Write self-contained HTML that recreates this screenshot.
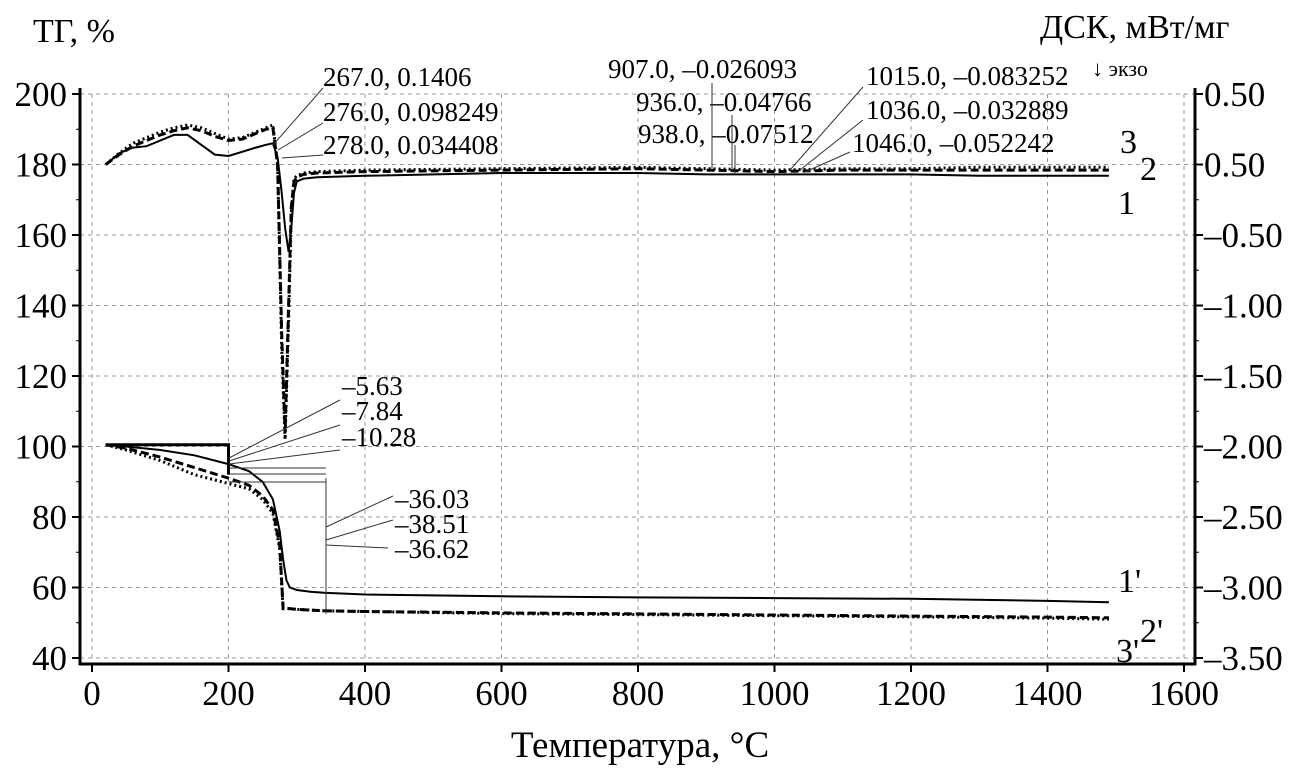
<!DOCTYPE html>
<html><head><meta charset="utf-8"><style>
html,body{margin:0;padding:0;background:#fff}
svg{display:block}
text{font-family:"Liberation Serif",serif;fill:#000}
</style></head><body>
<svg id="chart" width="1305" height="769" viewBox="0 0 1305 769" xmlns="http://www.w3.org/2000/svg">
<g id="grid"></g>
<g id="axes"></g>
<g id="series"></g>
<g id="annots"></g>
<text x="33" y="42" font-size="34">ТГ, %</text>
<text x="1040" y="38" font-size="34">ДСК, мВт/мг</text>
<text x="640" y="757" font-size="37" text-anchor="middle">Температура, °C</text>
<text x="1092" y="76" font-size="22">↓ экзо</text>
</svg>
<script>
const xTicks=[0,200,400,600,800,1000,1200,1400,1600];
const yLeftTicks=[40,60,80,100,120,140,160,180,200];
const yRightLabels=["–3.50","–3.00","–2.50","–2.00","–1.50","–1.00","–0.50","0.50","0.50"];
// DSC curves (right axis, mW/mg)
const dscT=[20,40,60,80,100,120,140,160,180,200,220,240,255,265,272,278,283,288,292,296,300,310,330,400,600,800,900,1000,1100,1200,1300,1400,1490];
const dsc1=[0,0.08,0.12,0.13,0.17,0.21,0.21,0.14,0.07,0.06,0.09,0.12,0.14,0.15,0.05,-0.2,-0.45,-0.62,-0.45,-0.2,-0.12,-0.1,-0.09,-0.08,-0.06,-0.06,-0.07,-0.07,-0.07,-0.07,-0.08,-0.08,-0.08];
const dsc2=[0,0.07,0.13,0.17,0.21,0.24,0.26,0.24,0.2,0.17,0.18,0.22,0.25,0.26,0.0,-1.2,-1.9,-1.0,-0.3,-0.12,-0.09,-0.07,-0.06,-0.05,-0.04,-0.03,-0.04,-0.05,-0.04,-0.04,-0.04,-0.04,-0.04];
const dsc3=[0,0.08,0.15,0.19,0.23,0.26,0.28,0.26,0.22,0.18,0.19,0.23,0.26,0.28,0.0,-1.3,-1.95,-1.1,-0.35,-0.1,-0.08,-0.06,-0.05,-0.04,-0.03,-0.02,-0.03,-0.04,-0.03,-0.03,-0.02,-0.02,-0.02];
// TG curves (left axis, %)
const tgT=[20,50,100,150,200,230,250,265,275,280,285,290,300,320,340,400,600,800,1000,1200,1400,1490];
const tg1=[100.5,100,99,97.5,95,93,90,85,76,68,62,60,59.3,58.8,58.5,58,57.5,57.2,57,56.8,56.2,55.8];
const tg2=[100.5,99.5,97,94,91,89,86,82,72,54,54,54,53.8,53.6,53.4,53.2,52.8,52.5,52.2,51.9,51.6,51.4];
const tg3=[100.5,99,96,92,89.5,88,85,81,71,54,54,54,53.8,53.6,53.4,53.2,52.6,52.3,52,51.7,51.3,51];
const X=t=>92+t*(1184-92)/1600;
const YL=v=>94+(200-v)*(658-94)/160;
const YR=r=>164.5-r*141;
const NS="http://www.w3.org/2000/svg";
function mk(tag,attrs,parent){const e=document.createElementNS(NS,tag);for(const k in attrs)e.setAttribute(k,attrs[k]);parent.appendChild(e);return e;}
const grid=document.getElementById('grid'),axes=document.getElementById('axes'),series=document.getElementById('series'),ann=document.getElementById('annots');
xTicks.forEach(t=>{
 const l=mk('line',{x1:X(t),x2:X(t),y1:94,y2:664,stroke:'#999','stroke-dasharray':'4 4','stroke-width':1},grid);
 
 
 const tx=mk('text',{x:X(t),y:705,'font-size':35,'text-anchor':'middle'},axes);tx.textContent=t;
 
 
 mk('line',{x1:X(t),x2:X(t),y1:664,y2:672,stroke:'#000','stroke-width':2},axes);
});
yLeftTicks.forEach((v,i)=>{
 const y=YL(v);
 const l=mk('line',{x1:80,x2:1195,y1:y,y2:y,stroke:'#999','stroke-dasharray':'4 4','stroke-width':1},grid);
 
 
 const tx=mk('text',{x:67,y:y+12,'font-size':35,'text-anchor':'end'},axes);tx.textContent=v;
 
 
 const tr=mk('text',{x:1204,y:y+12,'font-size':35},axes);tr.textContent=yRightLabels[i];
 
 
 mk('line',{x1:72,x2:80,y1:y,y2:y,stroke:'#000','stroke-width':2},axes);
 mk('line',{x1:1195,x2:1203,y1:y,y2:y,stroke:'#000','stroke-width':2},axes);
 if(i<yLeftTicks.length-1){const ym=y-35.25;mk('line',{x1:76,x2:80,y1:ym,y2:ym,stroke:'#000'},axes);mk('line',{x1:1195,x2:1199,y1:ym,y2:ym,stroke:'#000'},axes);}
});
mk('line',{x1:80,x2:80,y1:88,y2:665,stroke:'#000','stroke-width':3},axes);
mk('line',{x1:1195,x2:1195,y1:88,y2:665,stroke:'#000','stroke-width':3},axes);
mk('line',{x1:79,x2:1196,y1:664,y2:664,stroke:'#000','stroke-width':3},axes);
function path(xs,ys,yf,style,name){
 const d=xs.map((t,i)=>(i?'L':'M')+X(t).toFixed(1)+','+yf(ys[i]).toFixed(1)).join(' ');
 const p=mk('path',Object.assign({d:d,fill:'none',stroke:'#000'},style),series);
 
 
}
path(dscT,dsc1,YR,{'stroke-width':2},'dsc-curve-1');
path(dscT,dsc2,YR,{'stroke-width':3,'stroke-dasharray':'8 4'},'dsc-curve-2');
path(dscT,dsc3,YR,{'stroke-width':3,'stroke-dasharray':'2 3'},'dsc-curve-3');
path(tgT,tg1,YL,{'stroke-width':2},'tg-curve-1');
path(tgT,tg2,YL,{'stroke-width':3,'stroke-dasharray':'8 4'},'tg-curve-2');
path(tgT,tg3,YL,{'stroke-width':3,'stroke-dasharray':'2 3'},'tg-curve-3');
mk('path',{d:`M${X(20)},${YL(100.5)} L${X(200)},${YL(100.5)} L${X(200)},${YL(92)}`,stroke:'#000','stroke-width':3,fill:'none'},ann);
function label(x,y,s,fs,name){const t=mk('text',{x:x,y:y,'font-size':fs},ann);t.textContent=s;}
function ln(x1,y1,x2,y2){mk('line',{x1,y1,x2,y2,stroke:'#333','stroke-width':1},ann);}
label(323,86,'267.0, 0.1406',27,'peak-label-1');
label(323,121,'276.0, 0.098249',27,'peak-label-2');
label(323,154,'278.0, 0.034408',27,'peak-label-3');
ln(323,88,273,145);ln(323,123,278,150);ln(323,155,282,158);
label(608,78,'907.0, –0.026093',27,'peak-label-4');
label(636,111,'936.0, –0.04766',27,'peak-label-5');
label(638,143,'938.0, –0.07512',27,'peak-label-6');
label(866,85,'1015.0, –0.083252',27,'peak-label-7');
label(866,119,'1036.0, –0.032889',27,'peak-label-8');
label(852,152,'1046.0, –0.052242',27,'peak-label-9');
ln(712,83,712,168);ln(732,115,732,172);ln(735,145,735,175);
ln(863,87,790,170);ln(863,120,800,170);ln(850,152,805,172);
label(1120,153,'3',34,'series-label-3');label(1140,180,'2',34,'series-label-2');label(1118,214,'1',34,'series-label-1');
label(342,395,'–5.63',27,'loss-label-1');label(342,420,'–7.84',27,'loss-label-2');label(342,446,'–10.28',27,'loss-label-3');
ln(340,400,229,458);ln(340,425,229,461);ln(340,450,229,464);
[468,474,482].forEach(y=>ln(229,y,326,y));
mk('line',{x1:326,x2:326,y1:478,y2:592,stroke:'#333'},ann);
mk('line',{x1:326,x2:326,y1:585,y2:614,stroke:'#333'},ann);
label(395,508,'–36.03',27,'loss-label-4');label(395,533,'–38.51',27,'loss-label-5');label(395,558,'–36.62',27,'loss-label-6');
ln(393,496,326,527);ln(393,520,326,540);ln(326,545,388,548);
label(1118,592,"1'",34,'series-label-1p');label(1140,642,"2'",34,'series-label-2p');label(1116,662,"3'",34,'series-label-3p');
</script>
</body></html>
